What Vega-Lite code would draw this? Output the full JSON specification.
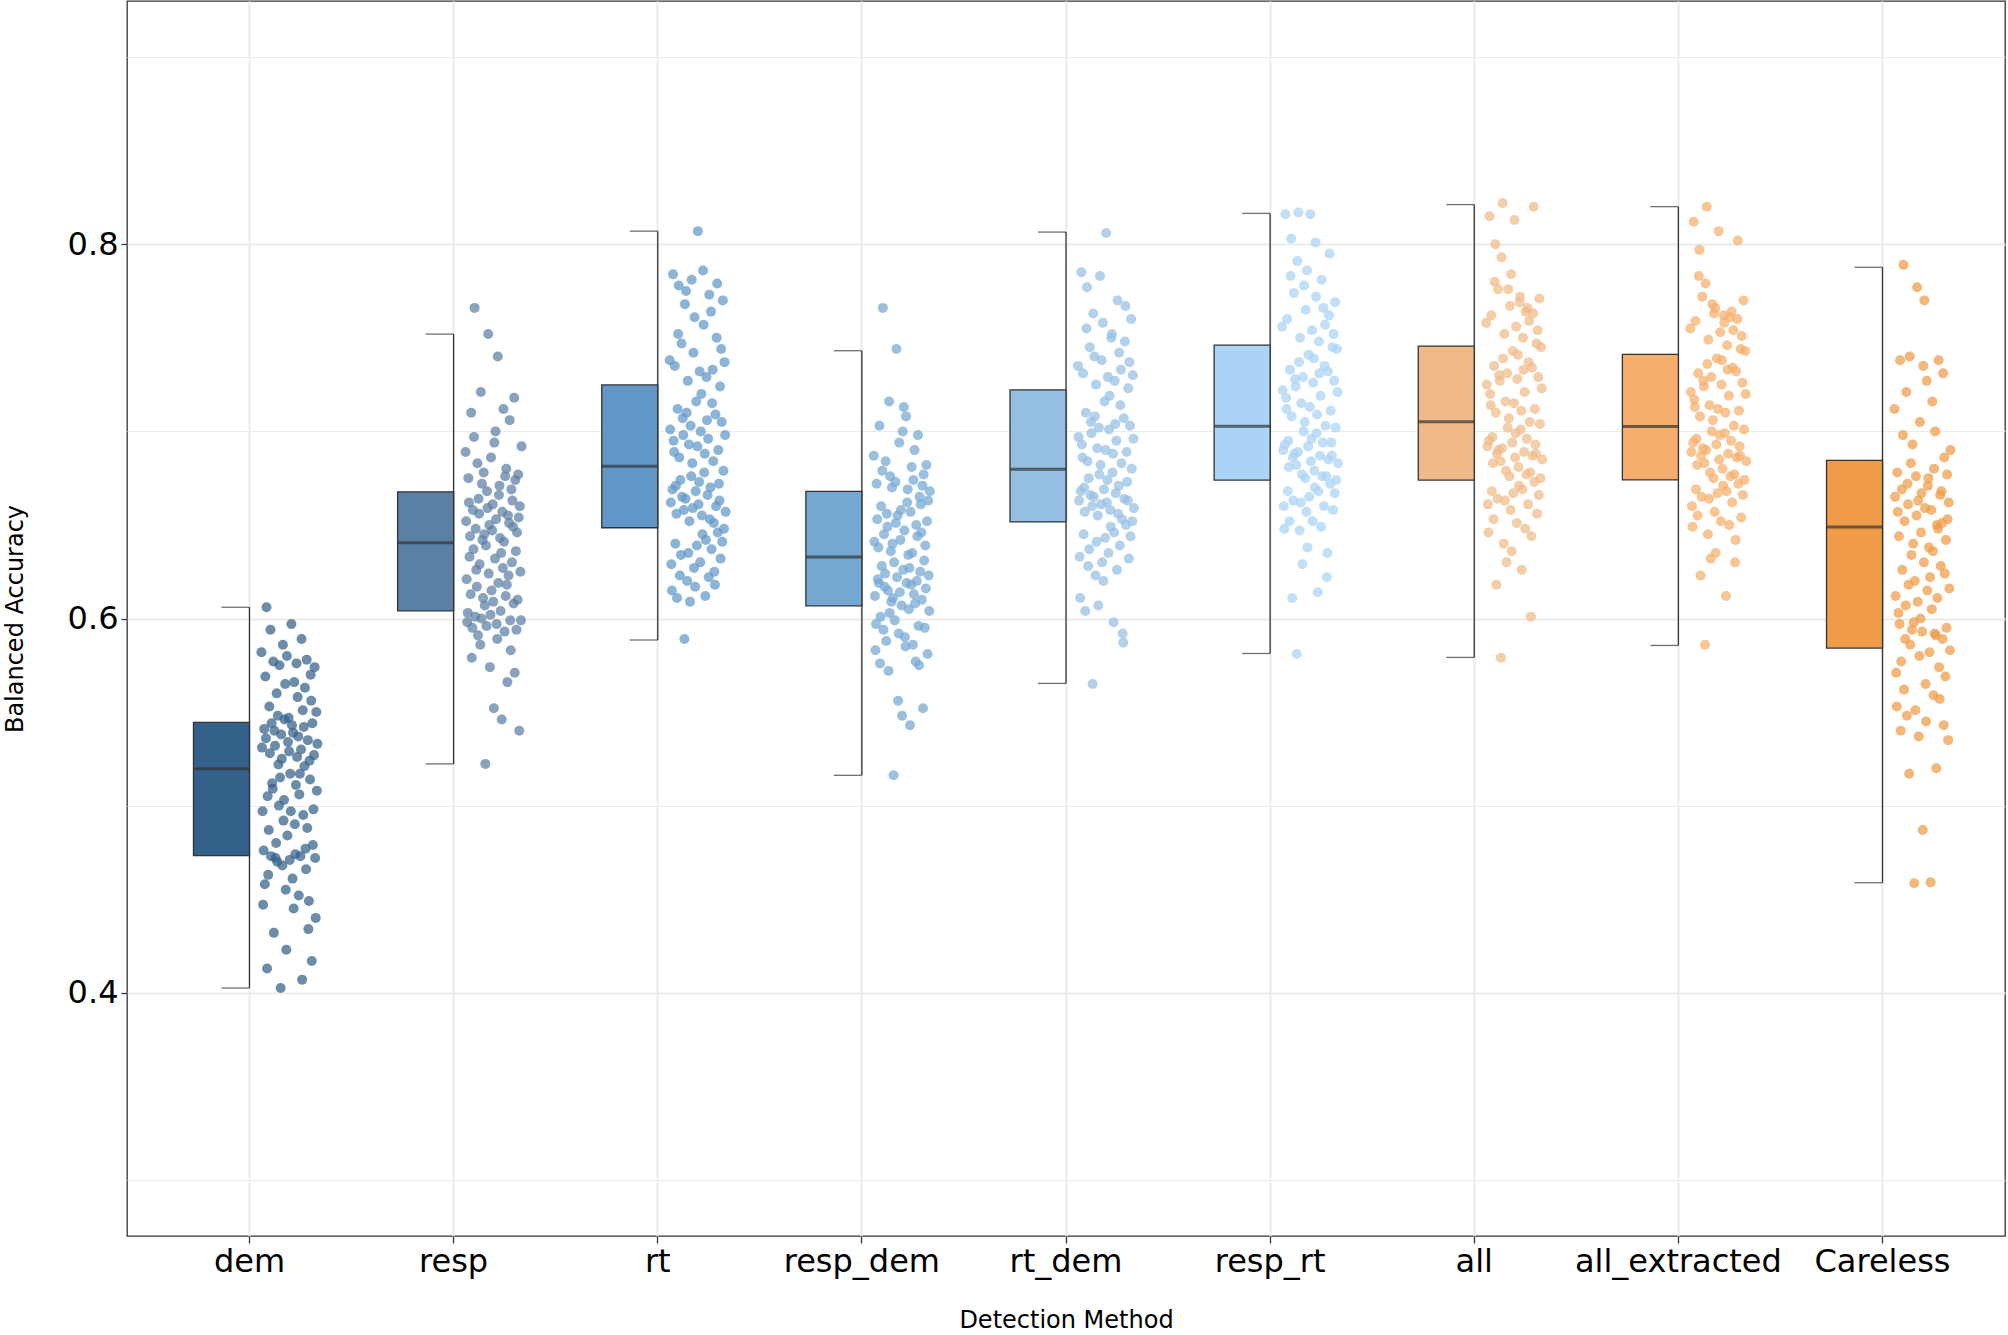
{
"$schema": "https://vega.github.io/schema/vega-lite/v6.json",
"width": 1878, "height": 1235,
"autosize": {"type": "none"},
"padding": {"left": 127, "top": 1, "right": 3, "bottom": 99},
"background": "white",
"config": {
  "view": {"stroke": "#333333", "strokeWidth": 1.3},
  "font": "DejaVu Sans",
  "axis": {"labelFont": "DejaVu Sans", "titleFont": "DejaVu Sans", "labelColor": "#000000", "titleColor": "#000000", "titleFontWeight": "normal", "domain": false, "tickColor": "#333333", "tickWidth": 1.3, "gridColor": "#ebebeb", "labelLimit": 0}
},
"datasets": {
"box": [
{"m":"dem","lo":0.4025,"q1":0.4733,"med":0.5197,"q3":0.5445,"hi":0.606},
{"m":"resp","lo":0.5223,"q1":0.6041,"med":0.6405,"q3":0.6677,"hi":0.752},
{"m":"rt","lo":0.5885,"q1":0.6485,"med":0.6814,"q3":0.7248,"hi":0.807},
{"m":"resp_dem","lo":0.5162,"q1":0.6068,"med":0.6329,"q3":0.6679,"hi":0.7431},
{"m":"rt_dem","lo":0.5653,"q1":0.6516,"med":0.6797,"q3":0.7222,"hi":0.8065},
{"m":"resp_rt","lo":0.5813,"q1":0.674,"med":0.7028,"q3":0.7461,"hi":0.8165},
{"m":"all","lo":0.5792,"q1":0.674,"med":0.7051,"q3":0.7456,"hi":0.8212},
{"m":"all_extracted","lo":0.5856,"q1":0.6741,"med":0.7026,"q3":0.7412,"hi":0.8201},
{"m":"Careless","lo":0.4588,"q1":0.5842,"med":0.6489,"q3":0.6845,"hi":0.7877}
],
"pts": [
{"m":"dem","v":0.582},{"m":"dem","v":0.531},{"m":"dem","v":0.497},{"m":"dem","v":0.447},{"m":"dem","v":0.476},{"m":"dem","v":0.541},{"m":"dem","v":0.458},{"m":"dem","v":0.569},{"m":"dem","v":0.536},{"m":"dem","v":0.606},{"m":"dem","v":0.413},{"m":"dem","v":0.505},{"m":"dem","v":0.463},{"m":"dem","v":0.487},{"m":"dem","v":0.553},{"m":"dem","v":0.528},{"m":"dem","v":0.594},{"m":"dem","v":0.473},{"m":"dem","v":0.544},{"m":"dem","v":0.512},{"m":"dem","v":0.509},{"m":"dem","v":0.577},{"m":"dem","v":0.432},{"m":"dem","v":0.540},{"m":"dem","v":0.532},{"m":"dem","v":0.472},{"m":"dem","v":0.480},{"m":"dem","v":0.560},{"m":"dem","v":0.470},{"m":"dem","v":0.548},{"m":"dem","v":0.522},{"m":"dem","v":0.500},{"m":"dem","v":0.575},{"m":"dem","v":0.515},{"m":"dem","v":0.4025},{"m":"dem","v":0.538},{"m":"dem","v":0.525},{"m":"dem","v":0.468},{"m":"dem","v":0.586},{"m":"dem","v":0.492},{"m":"dem","v":0.503},{"m":"dem","v":0.546},{"m":"dem","v":0.565},{"m":"dem","v":0.455},{"m":"dem","v":0.423},{"m":"dem","v":0.580},{"m":"dem","v":0.484},{"m":"dem","v":0.534},{"m":"dem","v":0.547},{"m":"dem","v":0.529},{"m":"dem","v":0.471},{"m":"dem","v":0.517},{"m":"dem","v":0.497},{"m":"dem","v":0.597},{"m":"dem","v":0.543},{"m":"dem","v":0.461},{"m":"dem","v":0.539},{"m":"dem","v":0.445},{"m":"dem","v":0.566},{"m":"dem","v":0.490},{"m":"dem","v":0.474},{"m":"dem","v":0.511},{"m":"dem","v":0.576},{"m":"dem","v":0.526},{"m":"dem","v":0.558},{"m":"dem","v":0.537},{"m":"dem","v":0.452},{"m":"dem","v":0.506},{"m":"dem","v":0.517},{"m":"dem","v":0.473},{"m":"dem","v":0.530},{"m":"dem","v":0.589},{"m":"dem","v":0.407},{"m":"dem","v":0.551},{"m":"dem","v":0.495},{"m":"dem","v":0.542},{"m":"dem","v":0.521},{"m":"dem","v":0.563},{"m":"dem","v":0.477},{"m":"dem","v":0.466},{"m":"dem","v":0.578},{"m":"dem","v":0.488},{"m":"dem","v":0.535},{"m":"dem","v":0.434},{"m":"dem","v":0.449},{"m":"dem","v":0.524},{"m":"dem","v":0.514},{"m":"dem","v":0.570},{"m":"dem","v":0.556},{"m":"dem","v":0.417},{"m":"dem","v":0.544},{"m":"dem","v":0.479},{"m":"dem","v":0.498},{"m":"dem","v":0.527},{"m":"dem","v":0.574},{"m":"dem","v":0.472},{"m":"dem","v":0.440},{"m":"dem","v":0.550},{"m":"dem","v":0.508},{"m":"dem","v":0.533},
{"m":"resp","v":0.689},{"m":"resp","v":0.652},{"m":"resp","v":0.621},{"m":"resp","v":0.598},{"m":"resp","v":0.603},{"m":"resp","v":0.675},{"m":"resp","v":0.662},{"m":"resp","v":0.633},{"m":"resp","v":0.644},{"m":"resp","v":0.613},{"m":"resp","v":0.710},{"m":"resp","v":0.579},{"m":"resp","v":0.595},{"m":"resp","v":0.658},{"m":"resp","v":0.637},{"m":"resp","v":0.697},{"m":"resp","v":0.766},{"m":"resp","v":0.601},{"m":"resp","v":0.648},{"m":"resp","v":0.626},{"m":"resp","v":0.617},{"m":"resp","v":0.683},{"m":"resp","v":0.591},{"m":"resp","v":0.664},{"m":"resp","v":0.656},{"m":"resp","v":0.629},{"m":"resp","v":0.586},{"m":"resp","v":0.721},{"m":"resp","v":0.600},{"m":"resp","v":0.672},{"m":"resp","v":0.642},{"m":"resp","v":0.611},{"m":"resp","v":0.678},{"m":"resp","v":0.645},{"m":"resp","v":0.607},{"m":"resp","v":0.5223},{"m":"resp","v":0.639},{"m":"resp","v":0.596},{"m":"resp","v":0.668},{"m":"resp","v":0.659},{"m":"resp","v":0.752},{"m":"resp","v":0.624},{"m":"resp","v":0.650},{"m":"resp","v":0.574},{"m":"resp","v":0.602},{"m":"resp","v":0.686},{"m":"resp","v":0.615},{"m":"resp","v":0.647},{"m":"resp","v":0.661},{"m":"resp","v":0.609},{"m":"resp","v":0.552},{"m":"resp","v":0.694},{"m":"resp","v":0.632},{"m":"resp","v":0.700},{"m":"resp","v":0.653},{"m":"resp","v":0.597},{"m":"resp","v":0.589},{"m":"resp","v":0.740},{"m":"resp","v":0.619},{"m":"resp","v":0.666},{"m":"resp","v":0.671},{"m":"resp","v":0.643},{"m":"resp","v":0.604},{"m":"resp","v":0.635},{"m":"resp","v":0.546},{"m":"resp","v":0.657},{"m":"resp","v":0.627},{"m":"resp","v":0.712},{"m":"resp","v":0.641},{"m":"resp","v":0.593},{"m":"resp","v":0.676},{"m":"resp","v":0.612},{"m":"resp","v":0.680},{"m":"resp","v":0.618},{"m":"resp","v":0.566},{"m":"resp","v":0.655},{"m":"resp","v":0.623},{"m":"resp","v":0.651},{"m":"resp","v":0.706},{"m":"resp","v":0.599},{"m":"resp","v":0.583},{"m":"resp","v":0.669},{"m":"resp","v":0.630},{"m":"resp","v":0.663},{"m":"resp","v":0.649},{"m":"resp","v":0.608},{"m":"resp","v":0.718},{"m":"resp","v":0.571},{"m":"resp","v":0.674},{"m":"resp","v":0.636},{"m":"resp","v":0.594},{"m":"resp","v":0.646},{"m":"resp","v":0.610},{"m":"resp","v":0.677},{"m":"resp","v":0.654},{"m":"resp","v":0.540},{"m":"resp","v":0.660},{"m":"resp","v":0.625},{"m":"resp","v":0.599},{"m":"resp","v":0.692},
{"m":"rt","v":0.738},{"m":"rt","v":0.701},{"m":"rt","v":0.662},{"m":"rt","v":0.629},{"m":"rt","v":0.615},{"m":"rt","v":0.669},{"m":"rt","v":0.784},{"m":"rt","v":0.695},{"m":"rt","v":0.689},{"m":"rt","v":0.735},{"m":"rt","v":0.640},{"m":"rt","v":0.671},{"m":"rt","v":0.656},{"m":"rt","v":0.611},{"m":"rt","v":0.712},{"m":"rt","v":0.752},{"m":"rt","v":0.778},{"m":"rt","v":0.686},{"m":"rt","v":0.623},{"m":"rt","v":0.674},{"m":"rt","v":0.634},{"m":"rt","v":0.747},{"m":"rt","v":0.665},{"m":"rt","v":0.707},{"m":"rt","v":0.698},{"m":"rt","v":0.658},{"m":"rt","v":0.589},{"m":"rt","v":0.768},{"m":"rt","v":0.664},{"m":"rt","v":0.775},{"m":"rt","v":0.710},{"m":"rt","v":0.620},{"m":"rt","v":0.727},{"m":"rt","v":0.635},{"m":"rt","v":0.693},{"m":"rt","v":0.652},{"m":"rt","v":0.609},{"m":"rt","v":0.703},{"m":"rt","v":0.676},{"m":"rt","v":0.781},{"m":"rt","v":0.683},{"m":"rt","v":0.659},{"m":"rt","v":0.742},{"m":"rt","v":0.627},{"m":"rt","v":0.761},{"m":"rt","v":0.617},{"m":"rt","v":0.668},{"m":"rt","v":0.716},{"m":"rt","v":0.639},{"m":"rt","v":0.692},{"m":"rt","v":0.807},{"m":"rt","v":0.661},{"m":"rt","v":0.673},{"m":"rt","v":0.732},{"m":"rt","v":0.630},{"m":"rt","v":0.700},{"m":"rt","v":0.720},{"m":"rt","v":0.655},{"m":"rt","v":0.645},{"m":"rt","v":0.786},{"m":"rt","v":0.757},{"m":"rt","v":0.678},{"m":"rt","v":0.688},{"m":"rt","v":0.612},{"m":"rt","v":0.642},{"m":"rt","v":0.729},{"m":"rt","v":0.706},{"m":"rt","v":0.666},{"m":"rt","v":0.696},{"m":"rt","v":0.622},{"m":"rt","v":0.773},{"m":"rt","v":0.653},{"m":"rt","v":0.670},{"m":"rt","v":0.764},{"m":"rt","v":0.637},{"m":"rt","v":0.715},{"m":"rt","v":0.733},{"m":"rt","v":0.684},{"m":"rt","v":0.651},{"m":"rt","v":0.625},{"m":"rt","v":0.618},{"m":"rt","v":0.709},{"m":"rt","v":0.660},{"m":"rt","v":0.750},{"m":"rt","v":0.779},{"m":"rt","v":0.646},{"m":"rt","v":0.690},{"m":"rt","v":0.672},{"m":"rt","v":0.663},{"m":"rt","v":0.724},{"m":"rt","v":0.632},{"m":"rt","v":0.744},{"m":"rt","v":0.705},{"m":"rt","v":0.641},{"m":"rt","v":0.770},{"m":"rt","v":0.679},{"m":"rt","v":0.648},{"m":"rt","v":0.737},{"m":"rt","v":0.698},{"m":"rt","v":0.657},
{"m":"resp_dem","v":0.687},{"m":"resp_dem","v":0.641},{"m":"resp_dem","v":0.612},{"m":"resp_dem","v":0.583},{"m":"resp_dem","v":0.597},{"m":"resp_dem","v":0.672},{"m":"resp_dem","v":0.653},{"m":"resp_dem","v":0.621},{"m":"resp_dem","v":0.638},{"m":"resp_dem","v":0.619},{"m":"resp_dem","v":0.703},{"m":"resp_dem","v":0.576},{"m":"resp_dem","v":0.601},{"m":"resp_dem","v":0.660},{"m":"resp_dem","v":0.628},{"m":"resp_dem","v":0.679},{"m":"resp_dem","v":0.766},{"m":"resp_dem","v":0.594},{"m":"resp_dem","v":0.645},{"m":"resp_dem","v":0.617},{"m":"resp_dem","v":0.624},{"m":"resp_dem","v":0.684},{"m":"resp_dem","v":0.588},{"m":"resp_dem","v":0.656},{"m":"resp_dem","v":0.649},{"m":"resp_dem","v":0.615},{"m":"resp_dem","v":0.572},{"m":"resp_dem","v":0.716},{"m":"resp_dem","v":0.603},{"m":"resp_dem","v":0.676},{"m":"resp_dem","v":0.636},{"m":"resp_dem","v":0.609},{"m":"resp_dem","v":0.670},{"m":"resp_dem","v":0.640},{"m":"resp_dem","v":0.611},{"m":"resp_dem","v":0.5162},{"m":"resp_dem","v":0.630},{"m":"resp_dem","v":0.599},{"m":"resp_dem","v":0.673},{"m":"resp_dem","v":0.651},{"m":"resp_dem","v":0.744},{"m":"resp_dem","v":0.622},{"m":"resp_dem","v":0.655},{"m":"resp_dem","v":0.556},{"m":"resp_dem","v":0.592},{"m":"resp_dem","v":0.694},{"m":"resp_dem","v":0.614},{"m":"resp_dem","v":0.642},{"m":"resp_dem","v":0.658},{"m":"resp_dem","v":0.607},{"m":"resp_dem","v":0.548},{"m":"resp_dem","v":0.700},{"m":"resp_dem","v":0.626},{"m":"resp_dem","v":0.713},{"m":"resp_dem","v":0.647},{"m":"resp_dem","v":0.590},{"m":"resp_dem","v":0.585},{"m":"resp_dem","v":0.708},{"m":"resp_dem","v":0.619},{"m":"resp_dem","v":0.662},{"m":"resp_dem","v":0.669},{"m":"resp_dem","v":0.634},{"m":"resp_dem","v":0.605},{"m":"resp_dem","v":0.627},{"m":"resp_dem","v":0.543},{"m":"resp_dem","v":0.657},{"m":"resp_dem","v":0.618},{"m":"resp_dem","v":0.681},{"m":"resp_dem","v":0.635},{"m":"resp_dem","v":0.586},{"m":"resp_dem","v":0.674},{"m":"resp_dem","v":0.613},{"m":"resp_dem","v":0.690},{"m":"resp_dem","v":0.608},{"m":"resp_dem","v":0.577},{"m":"resp_dem","v":0.650},{"m":"resp_dem","v":0.620},{"m":"resp_dem","v":0.644},{"m":"resp_dem","v":0.698},{"m":"resp_dem","v":0.596},{"m":"resp_dem","v":0.575},{"m":"resp_dem","v":0.665},{"m":"resp_dem","v":0.625},{"m":"resp_dem","v":0.661},{"m":"resp_dem","v":0.646},{"m":"resp_dem","v":0.610},{"m":"resp_dem","v":0.671},{"m":"resp_dem","v":0.552},{"m":"resp_dem","v":0.677},{"m":"resp_dem","v":0.631},{"m":"resp_dem","v":0.595},{"m":"resp_dem","v":0.639},{"m":"resp_dem","v":0.616},{"m":"resp_dem","v":0.682},{"m":"resp_dem","v":0.652},{"m":"resp_dem","v":0.581},{"m":"resp_dem","v":0.663},{"m":"resp_dem","v":0.623},{"m":"resp_dem","v":0.604},{"m":"resp_dem","v":0.668},
{"m":"rt_dem","v":0.735},{"m":"rt_dem","v":0.697},{"m":"rt_dem","v":0.663},{"m":"rt_dem","v":0.633},{"m":"rt_dem","v":0.611},{"m":"rt_dem","v":0.668},{"m":"rt_dem","v":0.785},{"m":"rt_dem","v":0.693},{"m":"rt_dem","v":0.686},{"m":"rt_dem","v":0.731},{"m":"rt_dem","v":0.645},{"m":"rt_dem","v":0.670},{"m":"rt_dem","v":0.657},{"m":"rt_dem","v":0.604},{"m":"rt_dem","v":0.710},{"m":"rt_dem","v":0.755},{"m":"rt_dem","v":0.777},{"m":"rt_dem","v":0.684},{"m":"rt_dem","v":0.628},{"m":"rt_dem","v":0.675},{"m":"rt_dem","v":0.637},{"m":"rt_dem","v":0.745},{"m":"rt_dem","v":0.666},{"m":"rt_dem","v":0.705},{"m":"rt_dem","v":0.699},{"m":"rt_dem","v":0.660},{"m":"rt_dem","v":0.565},{"m":"rt_dem","v":0.763},{"m":"rt_dem","v":0.665},{"m":"rt_dem","v":0.740},{"m":"rt_dem","v":0.708},{"m":"rt_dem","v":0.623},{"m":"rt_dem","v":0.725},{"m":"rt_dem","v":0.641},{"m":"rt_dem","v":0.691},{"m":"rt_dem","v":0.655},{"m":"rt_dem","v":0.607},{"m":"rt_dem","v":0.702},{"m":"rt_dem","v":0.677},{"m":"rt_dem","v":0.783},{"m":"rt_dem","v":0.682},{"m":"rt_dem","v":0.661},{"m":"rt_dem","v":0.738},{"m":"rt_dem","v":0.630},{"m":"rt_dem","v":0.758},{"m":"rt_dem","v":0.620},{"m":"rt_dem","v":0.669},{"m":"rt_dem","v":0.716},{"m":"rt_dem","v":0.643},{"m":"rt_dem","v":0.690},{"m":"rt_dem","v":0.806},{"m":"rt_dem","v":0.662},{"m":"rt_dem","v":0.674},{"m":"rt_dem","v":0.729},{"m":"rt_dem","v":0.635},{"m":"rt_dem","v":0.701},{"m":"rt_dem","v":0.719},{"m":"rt_dem","v":0.658},{"m":"rt_dem","v":0.649},{"m":"rt_dem","v":0.750},{"m":"rt_dem","v":0.752},{"m":"rt_dem","v":0.678},{"m":"rt_dem","v":0.688},{"m":"rt_dem","v":0.598},{"m":"rt_dem","v":0.646},{"m":"rt_dem","v":0.727},{"m":"rt_dem","v":0.704},{"m":"rt_dem","v":0.667},{"m":"rt_dem","v":0.695},{"m":"rt_dem","v":0.626},{"m":"rt_dem","v":0.770},{"m":"rt_dem","v":0.656},{"m":"rt_dem","v":0.671},{"m":"rt_dem","v":0.742},{"m":"rt_dem","v":0.639},{"m":"rt_dem","v":0.714},{"m":"rt_dem","v":0.733},{"m":"rt_dem","v":0.683},{"m":"rt_dem","v":0.653},{"m":"rt_dem","v":0.592},{"m":"rt_dem","v":0.587},{"m":"rt_dem","v":0.707},{"m":"rt_dem","v":0.664},{"m":"rt_dem","v":0.748},{"m":"rt_dem","v":0.767},{"m":"rt_dem","v":0.650},{"m":"rt_dem","v":0.689},{"m":"rt_dem","v":0.673},{"m":"rt_dem","v":0.663},{"m":"rt_dem","v":0.723},{"m":"rt_dem","v":0.632},{"m":"rt_dem","v":0.737},{"m":"rt_dem","v":0.703},{"m":"rt_dem","v":0.644},{"m":"rt_dem","v":0.760},{"m":"rt_dem","v":0.680},{"m":"rt_dem","v":0.652},{"m":"rt_dem","v":0.730},{"m":"rt_dem","v":0.696},{"m":"rt_dem","v":0.659},
{"m":"resp_rt","v":0.756},{"m":"resp_rt","v":0.722},{"m":"resp_rt","v":0.690},{"m":"resp_rt","v":0.660},{"m":"resp_rt","v":0.648},{"m":"resp_rt","v":0.693},{"m":"resp_rt","v":0.816},{"m":"resp_rt","v":0.718},{"m":"resp_rt","v":0.712},{"m":"resp_rt","v":0.760},{"m":"resp_rt","v":0.668},{"m":"resp_rt","v":0.695},{"m":"resp_rt","v":0.681},{"m":"resp_rt","v":0.652},{"m":"resp_rt","v":0.733},{"m":"resp_rt","v":0.783},{"m":"resp_rt","v":0.803},{"m":"resp_rt","v":0.708},{"m":"resp_rt","v":0.611},{"m":"resp_rt","v":0.686},{"m":"resp_rt","v":0.663},{"m":"resp_rt","v":0.774},{"m":"resp_rt","v":0.688},{"m":"resp_rt","v":0.728},{"m":"resp_rt","v":0.724},{"m":"resp_rt","v":0.682},{"m":"resp_rt","v":0.581},{"m":"resp_rt","v":0.791},{"m":"resp_rt","v":0.689},{"m":"resp_rt","v":0.817},{"m":"resp_rt","v":0.737},{"m":"resp_rt","v":0.647},{"m":"resp_rt","v":0.750},{"m":"resp_rt","v":0.662},{"m":"resp_rt","v":0.715},{"m":"resp_rt","v":0.677},{"m":"resp_rt","v":0.629},{"m":"resp_rt","v":0.729},{"m":"resp_rt","v":0.700},{"m":"resp_rt","v":0.778},{"m":"resp_rt","v":0.705},{"m":"resp_rt","v":0.675},{"m":"resp_rt","v":0.765},{"m":"resp_rt","v":0.657},{"m":"resp_rt","v":0.786},{"m":"resp_rt","v":0.638},{"m":"resp_rt","v":0.692},{"m":"resp_rt","v":0.741},{"m":"resp_rt","v":0.665},{"m":"resp_rt","v":0.713},{"m":"resp_rt","v":0.816},{"m":"resp_rt","v":0.684},{"m":"resp_rt","v":0.696},{"m":"resp_rt","v":0.754},{"m":"resp_rt","v":0.652},{"m":"resp_rt","v":0.726},{"m":"resp_rt","v":0.739},{"m":"resp_rt","v":0.679},{"m":"resp_rt","v":0.670},{"m":"resp_rt","v":0.801},{"m":"resp_rt","v":0.772},{"m":"resp_rt","v":0.699},{"m":"resp_rt","v":0.709},{"m":"resp_rt","v":0.614},{"m":"resp_rt","v":0.668},{"m":"resp_rt","v":0.748},{"m":"resp_rt","v":0.731},{"m":"resp_rt","v":0.687},{"m":"resp_rt","v":0.719},{"m":"resp_rt","v":0.649},{"m":"resp_rt","v":0.781},{"m":"resp_rt","v":0.676},{"m":"resp_rt","v":0.694},{"m":"resp_rt","v":0.766},{"m":"resp_rt","v":0.660},{"m":"resp_rt","v":0.735},{"m":"resp_rt","v":0.757},{"m":"resp_rt","v":0.703},{"m":"resp_rt","v":0.676},{"m":"resp_rt","v":0.622},{"m":"resp_rt","v":0.635},{"m":"resp_rt","v":0.732},{"m":"resp_rt","v":0.685},{"m":"resp_rt","v":0.762},{"m":"resp_rt","v":0.795},{"m":"resp_rt","v":0.672},{"m":"resp_rt","v":0.711},{"m":"resp_rt","v":0.694},{"m":"resp_rt","v":0.687},{"m":"resp_rt","v":0.745},{"m":"resp_rt","v":0.658},{"m":"resp_rt","v":0.752},{"m":"resp_rt","v":0.727},{"m":"resp_rt","v":0.667},{"m":"resp_rt","v":0.769},{"m":"resp_rt","v":0.702},{"m":"resp_rt","v":0.674},{"m":"resp_rt","v":0.744},{"m":"resp_rt","v":0.721},{"m":"resp_rt","v":0.683},
{"m":"all","v":0.758},{"m":"all","v":0.725},{"m":"all","v":0.692},{"m":"all","v":0.661},{"m":"all","v":0.646},{"m":"all","v":0.695},{"m":"all","v":0.815},{"m":"all","v":0.720},{"m":"all","v":0.714},{"m":"all","v":0.762},{"m":"all","v":0.668},{"m":"all","v":0.697},{"m":"all","v":0.683},{"m":"all","v":0.653},{"m":"all","v":0.735},{"m":"all","v":0.780},{"m":"all","v":0.800},{"m":"all","v":0.710},{"m":"all","v":0.618},{"m":"all","v":0.688},{"m":"all","v":0.664},{"m":"all","v":0.776},{"m":"all","v":0.690},{"m":"all","v":0.730},{"m":"all","v":0.727},{"m":"all","v":0.684},{"m":"all","v":0.579},{"m":"all","v":0.793},{"m":"all","v":0.691},{"m":"all","v":0.822},{"m":"all","v":0.739},{"m":"all","v":0.640},{"m":"all","v":0.752},{"m":"all","v":0.663},{"m":"all","v":0.716},{"m":"all","v":0.679},{"m":"all","v":0.630},{"m":"all","v":0.731},{"m":"all","v":0.702},{"m":"all","v":0.776},{"m":"all","v":0.707},{"m":"all","v":0.676},{"m":"all","v":0.767},{"m":"all","v":0.658},{"m":"all","v":0.784},{"m":"all","v":0.636},{"m":"all","v":0.694},{"m":"all","v":0.743},{"m":"all","v":0.667},{"m":"all","v":0.715},{"m":"all","v":0.813},{"m":"all","v":0.686},{"m":"all","v":0.699},{"m":"all","v":0.756},{"m":"all","v":0.651},{"m":"all","v":0.728},{"m":"all","v":0.741},{"m":"all","v":0.681},{"m":"all","v":0.671},{"m":"all","v":0.769},{"m":"all","v":0.772},{"m":"all","v":0.701},{"m":"all","v":0.711},{"m":"all","v":0.626},{"m":"all","v":0.669},{"m":"all","v":0.750},{"m":"all","v":0.733},{"m":"all","v":0.689},{"m":"all","v":0.721},{"m":"all","v":0.648},{"m":"all","v":0.764},{"m":"all","v":0.677},{"m":"all","v":0.696},{"m":"all","v":0.766},{"m":"all","v":0.661},{"m":"all","v":0.737},{"m":"all","v":0.759},{"m":"all","v":0.705},{"m":"all","v":0.678},{"m":"all","v":0.601},{"m":"all","v":0.644},{"m":"all","v":0.734},{"m":"all","v":0.687},{"m":"all","v":0.763},{"m":"all","v":0.820},{"m":"all","v":0.673},{"m":"all","v":0.712},{"m":"all","v":0.693},{"m":"all","v":0.688},{"m":"all","v":0.747},{"m":"all","v":0.656},{"m":"all","v":0.754},{"m":"all","v":0.729},{"m":"all","v":0.666},{"m":"all","v":0.771},{"m":"all","v":0.704},{"m":"all","v":0.675},{"m":"all","v":0.745},{"m":"all","v":0.723},{"m":"all","v":0.685},
{"m":"all_extracted","v":0.755},{"m":"all_extracted","v":0.721},{"m":"all_extracted","v":0.689},{"m":"all_extracted","v":0.660},{"m":"all_extracted","v":0.649},{"m":"all_extracted","v":0.694},{"m":"all_extracted","v":0.812},{"m":"all_extracted","v":0.717},{"m":"all_extracted","v":0.713},{"m":"all_extracted","v":0.759},{"m":"all_extracted","v":0.669},{"m":"all_extracted","v":0.696},{"m":"all_extracted","v":0.682},{"m":"all_extracted","v":0.655},{"m":"all_extracted","v":0.731},{"m":"all_extracted","v":0.783},{"m":"all_extracted","v":0.797},{"m":"all_extracted","v":0.708},{"m":"all_extracted","v":0.623},{"m":"all_extracted","v":0.687},{"m":"all_extracted","v":0.665},{"m":"all_extracted","v":0.772},{"m":"all_extracted","v":0.691},{"m":"all_extracted","v":0.727},{"m":"all_extracted","v":0.724},{"m":"all_extracted","v":0.683},{"m":"all_extracted","v":0.586},{"m":"all_extracted","v":0.779},{"m":"all_extracted","v":0.690},{"m":"all_extracted","v":0.820},{"m":"all_extracted","v":0.736},{"m":"all_extracted","v":0.645},{"m":"all_extracted","v":0.749},{"m":"all_extracted","v":0.664},{"m":"all_extracted","v":0.714},{"m":"all_extracted","v":0.678},{"m":"all_extracted","v":0.632},{"m":"all_extracted","v":0.729},{"m":"all_extracted","v":0.700},{"m":"all_extracted","v":0.768},{"m":"all_extracted","v":0.706},{"m":"all_extracted","v":0.675},{"m":"all_extracted","v":0.763},{"m":"all_extracted","v":0.657},{"m":"all_extracted","v":0.766},{"m":"all_extracted","v":0.635},{"m":"all_extracted","v":0.693},{"m":"all_extracted","v":0.739},{"m":"all_extracted","v":0.667},{"m":"all_extracted","v":0.712},{"m":"all_extracted","v":0.807},{"m":"all_extracted","v":0.685},{"m":"all_extracted","v":0.698},{"m":"all_extracted","v":0.753},{"m":"all_extracted","v":0.652},{"m":"all_extracted","v":0.725},{"m":"all_extracted","v":0.738},{"m":"all_extracted","v":0.680},{"m":"all_extracted","v":0.671},{"m":"all_extracted","v":0.762},{"m":"all_extracted","v":0.758},{"m":"all_extracted","v":0.699},{"m":"all_extracted","v":0.710},{"m":"all_extracted","v":0.612},{"m":"all_extracted","v":0.668},{"m":"all_extracted","v":0.746},{"m":"all_extracted","v":0.733},{"m":"all_extracted","v":0.688},{"m":"all_extracted","v":0.719},{"m":"all_extracted","v":0.650},{"m":"all_extracted","v":0.761},{"m":"all_extracted","v":0.676},{"m":"all_extracted","v":0.695},{"m":"all_extracted","v":0.764},{"m":"all_extracted","v":0.662},{"m":"all_extracted","v":0.734},{"m":"all_extracted","v":0.754},{"m":"all_extracted","v":0.703},{"m":"all_extracted","v":0.677},{"m":"all_extracted","v":0.630},{"m":"all_extracted","v":0.642},{"m":"all_extracted","v":0.732},{"m":"all_extracted","v":0.686},{"m":"all_extracted","v":0.760},{"m":"all_extracted","v":0.802},{"m":"all_extracted","v":0.672},{"m":"all_extracted","v":0.711},{"m":"all_extracted","v":0.692},{"m":"all_extracted","v":0.687},{"m":"all_extracted","v":0.744},{"m":"all_extracted","v":0.654},{"m":"all_extracted","v":0.751},{"m":"all_extracted","v":0.726},{"m":"all_extracted","v":0.666},{"m":"all_extracted","v":0.770},{"m":"all_extracted","v":0.701},{"m":"all_extracted","v":0.674},{"m":"all_extracted","v":0.743},{"m":"all_extracted","v":0.720},{"m":"all_extracted","v":0.684},
{"m":"Careless","v":0.712},{"m":"Careless","v":0.665},{"m":"Careless","v":0.612},{"m":"Careless","v":0.571},{"m":"Careless","v":0.553},{"m":"Careless","v":0.678},{"m":"Careless","v":0.657},{"m":"Careless","v":0.603},{"m":"Careless","v":0.644},{"m":"Careless","v":0.597},{"m":"Careless","v":0.738},{"m":"Careless","v":0.540},{"m":"Careless","v":0.577},{"m":"Careless","v":0.669},{"m":"Careless","v":0.626},{"m":"Careless","v":0.698},{"m":"Careless","v":0.789},{"m":"Careless","v":0.562},{"m":"Careless","v":0.652},{"m":"Careless","v":0.589},{"m":"Careless","v":0.607},{"m":"Careless","v":0.721},{"m":"Careless","v":0.548},{"m":"Careless","v":0.672},{"m":"Careless","v":0.661},{"m":"Careless","v":0.618},{"m":"Careless","v":0.517},{"m":"Careless","v":0.740},{"m":"Careless","v":0.586},{"m":"Careless","v":0.683},{"m":"Careless","v":0.634},{"m":"Careless","v":0.594},{"m":"Careless","v":0.693},{"m":"Careless","v":0.640},{"m":"Careless","v":0.598},{"m":"Careless","v":0.4585},{"m":"Careless","v":0.620},{"m":"Careless","v":0.551},{"m":"Careless","v":0.676},{"m":"Careless","v":0.655},{"m":"Careless","v":0.777},{"m":"Careless","v":0.609},{"m":"Careless","v":0.663},{"m":"Careless","v":0.537},{"m":"Careless","v":0.580},{"m":"Careless","v":0.705},{"m":"Careless","v":0.600},{"m":"Careless","v":0.646},{"m":"Careless","v":0.667},{"m":"Careless","v":0.593},{"m":"Careless","v":0.487},{"m":"Careless","v":0.735},{"m":"Careless","v":0.630},{"m":"Careless","v":0.770},{"m":"Careless","v":0.659},{"m":"Careless","v":0.565},{"m":"Careless","v":0.545},{"m":"Careless","v":0.727},{"m":"Careless","v":0.615},{"m":"Careless","v":0.671},{"m":"Careless","v":0.675},{"m":"Careless","v":0.638},{"m":"Careless","v":0.582},{"m":"Careless","v":0.622},{"m":"Careless","v":0.459},{"m":"Careless","v":0.658},{"m":"Careless","v":0.605},{"m":"Careless","v":0.716},{"m":"Careless","v":0.636},{"m":"Careless","v":0.559},{"m":"Careless","v":0.680},{"m":"Careless","v":0.592},{"m":"Careless","v":0.700},{"m":"Careless","v":0.591},{"m":"Careless","v":0.520},{"m":"Careless","v":0.650},{"m":"Careless","v":0.611},{"m":"Careless","v":0.648},{"m":"Careless","v":0.738},{"m":"Careless","v":0.574},{"m":"Careless","v":0.557},{"m":"Careless","v":0.666},{"m":"Careless","v":0.628},{"m":"Careless","v":0.668},{"m":"Careless","v":0.651},{"m":"Careless","v":0.589},{"m":"Careless","v":0.731},{"m":"Careless","v":0.543},{"m":"Careless","v":0.686},{"m":"Careless","v":0.624},{"m":"Careless","v":0.569},{"m":"Careless","v":0.642},{"m":"Careless","v":0.595},{"m":"Careless","v":0.677},{"m":"Careless","v":0.653},{"m":"Careless","v":0.535},{"m":"Careless","v":0.662},{"m":"Careless","v":0.616},{"m":"Careless","v":0.583},{"m":"Careless","v":0.690}
]
},
"encoding": {
  "x": {"field": "m", "type": "nominal",
    "sort": ["dem","resp","rt","resp_dem","rt_dem","resp_rt","all","all_extracted","Careless"],
    "scale": {"type": "band", "paddingInner": 0, "paddingOuter": 0.1},
    "axis": {"title": "Detection Method", "labelAngle": 0, "labelFontSize": 32, "labelLimit": 0, "titleFontSize": 24, "tickSize": 7, "labelPadding": 3, "titlePadding": 31, "bandPosition": 0.5, "grid": true, "gridWidth": 2}}
},
"layer": [
  {"data": {"name": "box"},
   "mark": {"type": "rule", "color": "#333333", "strokeWidth": 1.3},
   "encoding": {
     "y": {"field": "lo", "type": "quantitative", "title": "Balanced Accuracy",
       "scale": {"domain": [0.27, 0.93], "nice": false, "zero": false},
       "axis": {"values": [0.3,0.4,0.5,0.6,0.7,0.8,0.9],
         "labelExpr": "round(datum.value*10) % 2 == 0 ? format(datum.value, '.1f') : ''",
         "labelFontSize": 32, "titleFontSize": 24, "tickSize": 6, "labelPadding": 3, "titlePadding": 40,
         "tickOpacity": {"condition": {"test": "round(datum.value*10) % 2 == 0", "value": 1}, "value": 0},
         "gridWidth": {"condition": {"test": "round(datum.value*10) % 2 == 0", "value": 2}, "value": 1.2}}},
     "y2": {"field": "hi"}}},
  {"data": {"name": "box"},
   "mark": {"type": "tick", "color": "#333333", "size": 28, "thickness": 1.3, "xOffset": -14},
   "encoding": {"y": {"field": "lo", "type": "quantitative", "title": "Balanced Accuracy"}}},
  {"data": {"name": "box"},
   "mark": {"type": "tick", "color": "#333333", "size": 28, "thickness": 1.3, "xOffset": -14},
   "encoding": {"y": {"field": "hi", "type": "quantitative", "title": "Balanced Accuracy"}}},
  {"data": {"name": "box"},
   "mark": {"type": "bar", "width": 56, "xOffset": -28, "stroke": "#333333", "strokeWidth": 1.3, "opacity": 1},
   "encoding": {
     "y": {"field": "q1", "type": "quantitative", "title": "Balanced Accuracy"},
     "y2": {"field": "q3"},
     "fill": {"field": "m", "type": "nominal", "legend": null,
       "scale": {"domain": ["dem","resp","rt","resp_dem","rt_dem","resp_rt","all","all_extracted","Careless"],
                 "range": ["#336189","#5b80a5","#6097c7","#74a7d2","#95bfe3","#aad3f5","#f0ba88","#f5ae6c","#ef9b47"]}}}},
  {"data": {"name": "box"},
   "mark": {"type": "tick", "color": "#333333", "size": 56, "thickness": 3, "xOffset": -28},
   "encoding": {"y": {"field": "med", "type": "quantitative", "title": "Balanced Accuracy"}}},
  {"data": {"name": "pts"},
   "transform": [{"window": [{"op": "row_number", "as": "i"}], "groupby": ["m"]}],
   "mark": {"type": "circle", "size": 100, "opacity": 0.72},
   "encoding": {
     "y": {"field": "v", "type": "quantitative", "title": "Balanced Accuracy"},
     "xOffset": {"field": "i", "type": "quantitative", "scale": {"domain": [1, 100], "range": [114, 170]}},
     "color": {"field": "m", "type": "nominal", "legend": null,
       "scale": {"domain": ["dem","resp","rt","resp_dem","rt_dem","resp_rt","all","all_extracted","Careless"],
                 "range": ["#336189","#5b80a5","#6097c7","#74a7d2","#95bfe3","#aad3f5","#f0ba88","#f5ae6c","#ef9b47"]}}}}
]
}
